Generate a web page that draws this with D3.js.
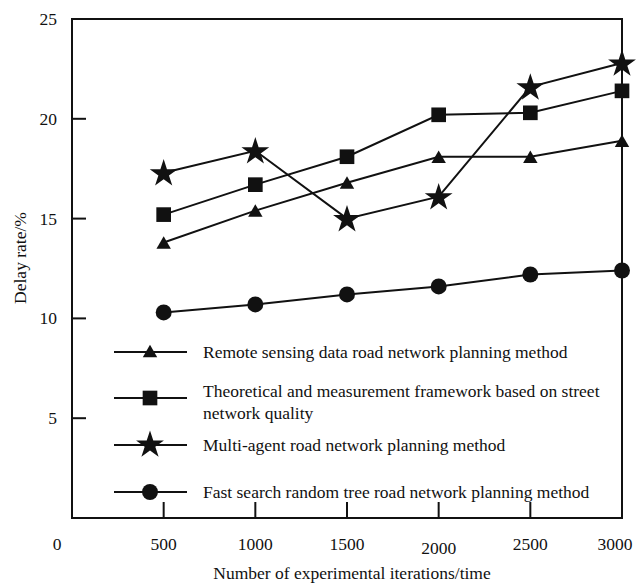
<!DOCTYPE html>
<html>
<head>
<meta charset="utf-8">
<script src="https://cdn.jsdelivr.net/npm/d3@7"></script>
<style>
  body { margin: 0; background: #fff; }
  text { font-family: "Liberation Serif", "Times New Roman", serif; fill: #111; }
</style>
</head>
<body>
<div id="chart-area"></div>
<script>
// data
var iterations = [500, 1000, 1500, 2000, 2500, 3000];
var remoteSensing = [13.8, 15.4, 16.8, 18.1, 18.1, 18.9];
var streetQuality = [15.2, 16.7, 18.1, 20.2, 20.3, 21.4];
var multiAgent = [17.3, 18.4, 15.0, 16.1, 21.6, 22.8];
var fastSearch = [10.3, 10.7, 11.2, 11.6, 12.2, 12.4];
var xTicks = [0, 500, 1000, 1500, 2000, 2500, 3000];
var yTicks = [5, 10, 15, 20, 25];
var seriesNames = [
    ["Remote sensing data road network planning method"],
    ["Theoretical and measurement framework based on street", "network quality"],
    ["Multi-agent road network planning method"],
    ["Fast search random tree road network planning method"]
];

var W = 638, H = 585;
var margin = {left : 72, right : 622, top : 19, bottom : 518};
var fs = "17.5px";

var svg = d3.select("#chart-area")
    .append("svg")
        .attr("width", W)
        .attr("height", H);

var x = d3.scaleLinear().domain([0, 3000]).range([margin.left, margin.right]);
var y = d3.scaleLinear().domain([0, 25]).range([margin.bottom, margin.top]);

// frame
svg.append("rect")
    .attr("x", margin.left).attr("y", margin.top)
    .attr("width", margin.right - margin.left).attr("height", margin.bottom - margin.top)
    .attr("fill", "none").attr("stroke", "#111").attr("stroke-width", 2);

// inner ticks
svg.selectAll(".xt").data(iterations.slice(0, 5))
    .enter().append("line")
        .attr("x1", function(d){ return x(d); })
        .attr("x2", function(d){ return x(d); })
        .attr("y1", margin.bottom).attr("y2", margin.bottom - 16)
        .attr("stroke", "#111").attr("stroke-width", 2);

svg.selectAll(".yt").data(yTicks.slice(0, 4))
    .enter().append("line")
        .attr("x1", margin.left).attr("x2", margin.left + 14)
        .attr("y1", function(d){ return y(d); })
        .attr("y2", function(d){ return y(d); })
        .attr("stroke", "#111").attr("stroke-width", 2);

// tick labels
svg.selectAll(".xl").data(xTicks)
    .enter().append("text")
        .attr("x", function(d){ return d === 0 ? x(d) - 15 : (d === 3000 ? x(d) - 7 : x(d)); })
        .attr("y", function(d){ return d === 2000 ? 554 : 550; })
        .attr("font-size", fs)
        .attr("text-anchor", "middle")
        .text(function(d){ return d; });

svg.selectAll(".yl").data(yTicks)
    .enter().append("text")
        .attr("x", 57)
        .attr("y", function(d){ return y(d) + 6; })
        .attr("font-size", fs)
        .attr("text-anchor", "end")
        .text(function(d){ return d; });

// axis titles
svg.append("text")
    .attr("x", 352).attr("y", 579)
    .attr("font-size", fs)
    .attr("text-anchor", "middle")
    .text("Number of experimental iterations/time");

svg.append("text")
    .attr("transform", "translate(26,258) rotate(-90)")
    .attr("font-size", fs)
    .attr("text-anchor", "middle")
    .text("Delay rate/%");

// series
var symbols = [
    d3.symbol().type(d3.symbolTriangle).size(90),
    d3.symbol().type(d3.symbolSquare).size(215),
    d3.symbol().type(d3.symbolStar).size(240),
    d3.symbol().type(d3.symbolCircle).size(200)
];
var allSeries = [remoteSensing, streetQuality, multiAgent, fastSearch];

var line = d3.line()
    .x(function(d){ return x(d.it); })
    .y(function(d){ return y(d.v); });

allSeries.forEach(function(vals, k){
    var pts = iterations.map(function(it, i){ return {it: it, v: vals[i]}; });
    svg.append("path")
        .datum(pts)
        .attr("d", line)
        .attr("fill", "none")
        .attr("stroke", "#111")
        .attr("stroke-width", 2);
    svg.selectAll(".m" + k).data(pts)
        .enter().append("path")
            .attr("d", symbols[k])
            .attr("transform", function(d){
                var dy = k === 0 ? 2 : (k === 2 ? 1 : 0);
                return "translate(" + x(d.it) + "," + (y(d.v) + dy) + ")";
            })
            .attr("fill", "#111");
});

// legend
var legendY = [352, 398, 445, 492];
seriesNames.forEach(function(lines, k){
    var ly = legendY[k];
    svg.append("line")
        .attr("x1", 114).attr("x2", 187)
        .attr("y1", ly).attr("y2", ly)
        .attr("stroke", "#111").attr("stroke-width", 2);
    svg.append("path")
        .attr("d", symbols[k])
        .attr("transform", "translate(150," + (ly + (k === 0 ? 1 : 0)) + ")")
        .attr("fill", "#111");
    var txt = svg.append("text")
        .attr("x", 203)
        .attr("y", lines.length > 1 ? ly - 1 : ly + 6)
        .attr("font-size", fs);
    lines.forEach(function(s, j){
        txt.append("tspan")
            .attr("x", 203)
            .attr("dy", j === 0 ? 0 : 22)
            .text(s);
    });
});
</script>
</body>
</html>
